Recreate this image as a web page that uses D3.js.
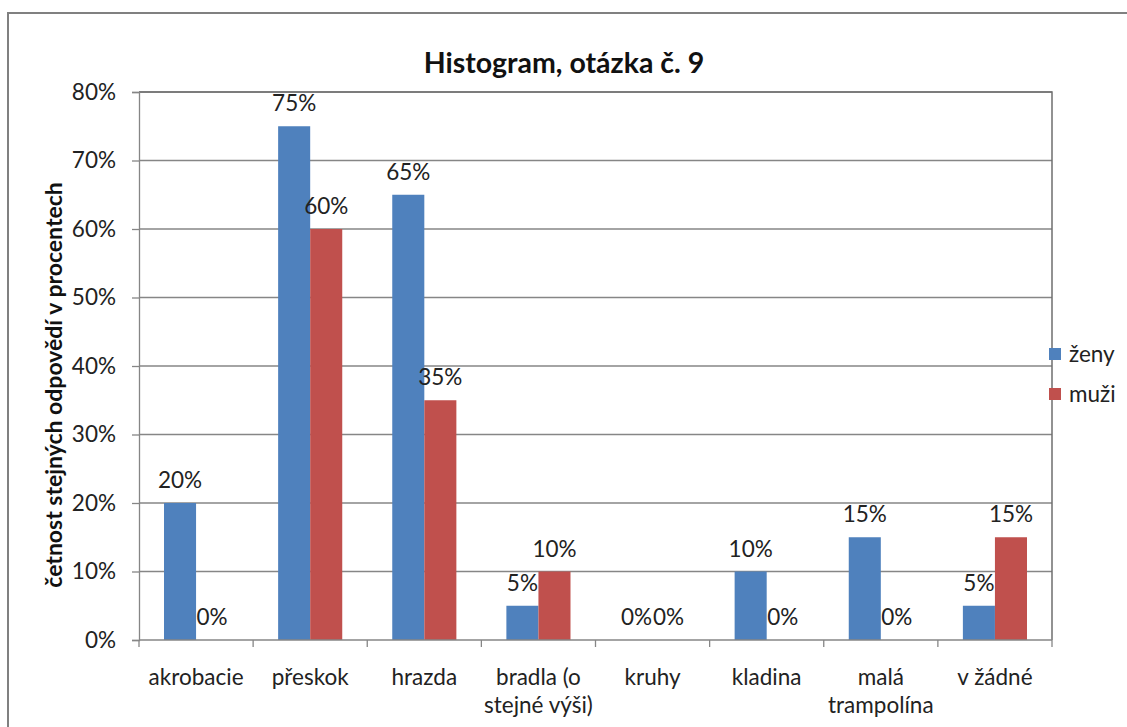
<!DOCTYPE html>
<html>
<head>
<meta charset="utf-8">
<script src="https://cdn.jsdelivr.net/npm/d3@7"></script>
<style>
  html, body { margin: 0; padding: 0; background: #fff; }
  svg { display: block; font-family: Lato, "Open Sans", sans-serif; }
</style>
</head>
<body>
<svg id="chart" width="1127" height="727"></svg>
<script>
const categories = [["akrobacie"], ["přeskok"], ["hrazda"], ["bradla (o", "stejné výši)"], ["kruhy"], ["kladina"], ["malá", "trampolína"], ["v žádné"]];
const seriesNames = ["ženy", "muži"];
const zeny = [0.20, 0.75, 0.65, 0.05, 0.00, 0.10, 0.15, 0.05];
const muzi = [0.00, 0.60, 0.35, 0.10, 0.00, 0.00, 0.00, 0.15];
const yTicks = [0, 0.1, 0.2, 0.3, 0.4, 0.5, 0.6, 0.7, 0.8];
const colors = ["#4F81BD", "#C0504D"];
const titleText = "Histogram, otázka č. 9";
const yTitle = "četnost stejných odpovědí v procentech";

const svg = d3.select("#chart");
const L = 139, R = 1052, T = 92, B = 640;
const catKeys = categories.map((c, i) => i);

// outer frame
svg.append("rect").attr("x", 8).attr("y", 13).attr("width", 1140).attr("height", 740)
  .attr("fill", "#fff").attr("stroke", "#808080").attr("stroke-width", 2);

const y = d3.scaleLinear().domain([0, 0.8]).range([B, T]);
const x0 = d3.scaleBand().domain(catKeys).range([L, R]).padding(0);
const x1 = d3.scaleBand().domain(seriesNames).range([0, x0.bandwidth()]).paddingInner(0).paddingOuter(0.78);

// gridlines
svg.append("g").selectAll("line").data(yTicks.slice(1)).join("line")
  .attr("x1", L).attr("x2", R).attr("y1", d => y(d)).attr("y2", d => y(d))
  .attr("stroke", "#868686").attr("stroke-width", 1.3);

// plot border (top & right)
svg.append("path").attr("d", `M${L},${T}H${R}V${B}`).attr("fill", "none")
  .attr("stroke", "#6f6f6f").attr("stroke-width", 1.5);

// y axis
const yAxis = d3.axisLeft(y).tickValues(yTicks).tickFormat(d3.format(".0%")).tickSize(7).tickPadding(16);
const gy = svg.append("g").attr("transform", `translate(${L},0)`).call(yAxis);
gy.select(".domain").attr("stroke", "#868686").attr("stroke-width", 1.3);
gy.selectAll(".tick line").attr("stroke", "#868686").attr("stroke-width", 1.3);
gy.selectAll(".tick text").attr("font-size", 22.5).attr("fill", "#222").attr("font-family", "Lato");

// bars
const data = catKeys.map(i => ({ i, vals: [zeny[i], muzi[i]] }));
const groups = svg.append("g").selectAll("g").data(data).join("g")
  .attr("transform", d => `translate(${x0(d.i)},0)`);
groups.selectAll("rect").data(d => d.vals.map((v, k) => ({ v, k }))).join("rect")
  .attr("x", d => x1(seriesNames[d.k])).attr("width", x1.bandwidth())
  .attr("y", d => y(d.v)).attr("height", d => B - y(d.v))
  .attr("fill", d => colors[d.k]);
groups.selectAll("text").data(d => d.vals.map((v, k) => ({ v, k }))).join("text")
  .attr("x", d => x1(seriesNames[d.k]) + x1.bandwidth() / 2)
  .attr("y", d => y(d.v) - 15)
  .attr("text-anchor", "middle").attr("font-size", 22.5).attr("fill", "#222")
  .text(d => d3.format(".0%")(d.v));

// x axis
svg.append("line").attr("x1", L).attr("x2", R).attr("y1", B).attr("y2", B)
  .attr("stroke", "#868686").attr("stroke-width", 1.3);
const bounds = catKeys.map(i => x0(i)).concat([x0(catKeys[catKeys.length - 1]) + x0.bandwidth()]);
svg.append("g").selectAll("line").data(bounds).join("line")
  .attr("x1", d => d).attr("x2", d => d).attr("y1", B).attr("y2", B + 7)
  .attr("stroke", "#868686").attr("stroke-width", 1.3);
const xl = svg.append("g").selectAll("text").data(data).join("text")
  .attr("x", d => x0(d.i) + x0.bandwidth() / 2).attr("y", 685)
  .attr("text-anchor", "middle").attr("font-size", 22.5).attr("fill", "#222");
xl.selectAll("tspan").data(d => categories[d.i].map((t, j) => ({ t, j, x: x0(d.i) + x0.bandwidth() / 2 })))
  .join("tspan").attr("x", d => d.x).attr("dy", d => d.j === 0 ? 0 : 28).text(d => d.t);

// title
svg.append("text").attr("x", 564).attr("y", 73).attr("text-anchor", "middle")
  .attr("font-size", 28.5).attr("font-weight", "bold").attr("fill", "#111").text(titleText);

// y title
svg.append("text").attr("transform", "translate(62,385) rotate(-90)")
  .attr("text-anchor", "middle").attr("font-size", 23).attr("font-weight", "bold")
  .attr("fill", "#111").text(yTitle);

// legend
const lg = svg.append("g").selectAll("g").data(seriesNames).join("g")
  .attr("transform", (d, i) => `translate(1049,${348 + i * 40})`);
lg.append("rect").attr("width", 12).attr("height", 12).attr("fill", (d, i) => colors[i]);
lg.append("text").attr("x", 20).attr("y", 6).attr("dy", "0.35em")
  .attr("font-size", 22.5).attr("fill", "#222").text(d => d);
</script>
</body>
</html>
